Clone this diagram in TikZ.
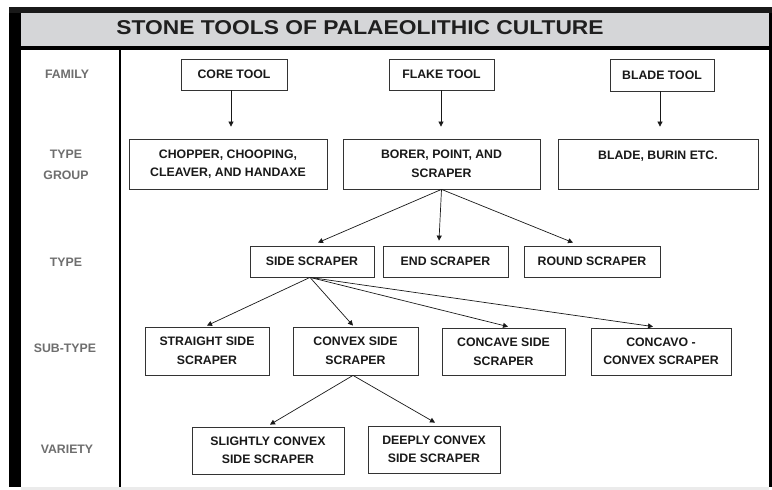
\documentclass[tikz,border=0pt]{standalone}
\usepackage{fontspec}
\setmainfont{Liberation Sans}
\usetikzlibrary{arrows.meta,calc}
\definecolor{titlegray}{HTML}{D5D6D8}
\definecolor{labgray}{HTML}{6E6E6E}
\definecolor{boxline}{HTML}{333333}
\begin{document}
\begin{tikzpicture}[x=1pt,y=-1pt,
  box/.style={draw=boxline,line width=0.8pt,fill=white,inner sep=0pt,align=center,
    font=\fontsize{12.3}{18.5}\selectfont\bfseries,text=black!90},
  lab/.style={font=\fontsize{12.3}{21}\selectfont\bfseries,text=labgray,align=center},
  arr/.style={-{Triangle[width=5pt,length=5pt]},line width=0.7pt,black!90}]
\useasboundingbox (0,0) rectangle (772,490);
% frame
\fill[white] (0,0) rectangle (772,490);
\fill[titlegray] (21,13) rectangle (769,46);
\fill[black!90] (9,7) rectangle (772,13);
\fill[black] (9,13) rectangle (21,487);
\fill[black] (769,13) rectangle (772,487);
\fill[black] (21,46) rectangle (769,50);
\fill[black] (119,50) rectangle (121,487);
\fill[black!8] (21,487) rectangle (769,490);
\node[font=\fontsize{20}{24}\selectfont\bfseries,text=black!88] (title) at (360,28)
  {\scalebox{1.14}[1]{STONE TOOLS OF PALAEOLITHIC CULTURE}};
% left labels
\node[lab] (lfam) at (67,74) {FAMILY};
\node[lab] (ltg) at (66,164.5) {TYPE\\GROUP};
\node[lab] (lty) at (66,262) {TYPE};
\node[lab] (lst) at (65,348) {SUB-TYPE};
\node[lab] (lvar) at (67,449) {VARIETY};
% family
\node[box,minimum width=106,minimum height=31] (core) at (234,74.5) {CORE TOOL};
\node[box,minimum width=105,minimum height=31] (flake) at (441.5,74.5) {FLAKE TOOL};
\node[box,minimum width=104,minimum height=32] (bladet) at (662,75) {BLADE TOOL};
% type group
\node[box,minimum width=198,minimum height=50] (chopper) at (228,164) {CHOPPER, CHOOPING,\\CLEAVER, AND HANDAXE};
\node[box,minimum width=197,minimum height=50] (borer) at (441.5,164) {BORER, POINT, AND\\SCRAPER};
\node[box,minimum width=200,minimum height=50] (burin) at (658,164) {BLADE, BURIN ETC.\\\mbox{}};
% type
\node[box,minimum width=124,minimum height=31] (side) at (312,261.5) {SIDE SCRAPER};
\node[box,minimum width=125,minimum height=31] (endsc) at (445.5,261.5) {END SCRAPER};
\node[box,minimum width=136,minimum height=31] (round) at (592,261.5) {ROUND SCRAPER};
% sub-type
\node[box,minimum width=124,minimum height=48] (straight) at (207,351) {STRAIGHT SIDE\\SCRAPER};
\node[box,minimum width=125,minimum height=48] (convex) at (355.5,351) {CONVEX SIDE\\SCRAPER};
\node[box,minimum width=123,minimum height=47] (concave) at (503.5,352) {CONCAVE SIDE\\SCRAPER};
\node[box,minimum width=140,minimum height=47] (concavo) at (661,351.5) {CONCAVO -\\CONVEX SCRAPER};
% variety
\node[box,minimum width=152,minimum height=47] (slight) at (268,450.5) {SLIGHTLY CONVEX\\SIDE SCRAPER};
\node[box,minimum width=132,minimum height=47] (deep) at (434,449.5) {DEEPLY CONVEX\\SIDE SCRAPER};
% arrows
\coordinate (c1) at ([xshift=-3]core.south);
\coordinate (c2) at ([xshift=-0.5]flake.south);
\coordinate (c3) at ([xshift=-2]bladet.south);
\draw[arr] (c1) -- ([yshift=12]c1 |- chopper.north);
\draw[arr] (c2) -- ([yshift=12]c2 |- borer.north);
\draw[arr] (c3) -- ([yshift=12]c3 |- burin.north);
\draw[arr] (borer.south) -- ([xshift=6,yshift=3]side.north);
\draw[arr] (borer.south) -- ([xshift=-6.5,yshift=5]endsc.north);
\draw[arr] (borer.south) -- ([xshift=-19,yshift=3]round.north);
\coordinate (sbot) at ([xshift=-2]side.south);
\draw[arr] (sbot) -- ([yshift=1]straight.north);
\draw[arr] (sbot) -- ([xshift=-2.5,yshift=1]convex.north);
\draw[arr] (sbot) -- ([xshift=4.5,yshift=1.5]concave.north);
\draw[arr] (sbot) -- ([xshift=-8,yshift=1]concavo.north);
\coordinate (cbot) at ([xshift=-2.5]convex.south);
\draw[arr] (cbot) -- ([xshift=2,yshift=2]slight.north);
\draw[arr] (cbot) -- ([xshift=1,yshift=3]deep.north);
\end{tikzpicture}
\end{document}
